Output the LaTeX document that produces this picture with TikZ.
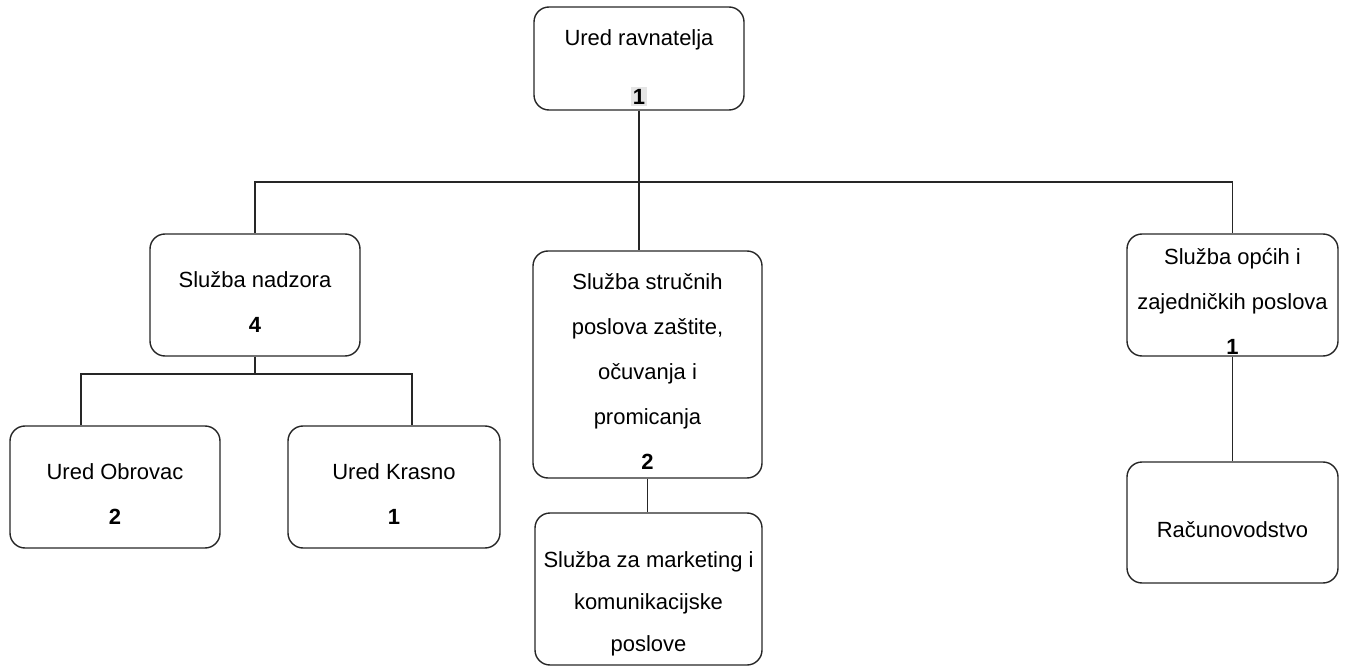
\documentclass[tikz,border=0pt]{standalone}
\usepackage{fontspec}
\setmainfont{Liberation Sans}
\usetikzlibrary{positioning}
\newcommand{\topgap}[1][17pt]{\rule{0pt}{#1}}

\begin{document}
\begin{tikzpicture}[
    box/.style={draw=black!85, line width=0.8pt, rounded corners=0.3cm, align=center,
      inner sep=0pt, font=\fontsize{12.5}{25.6}\selectfont},
    link/.style={draw=black!85, line width=0.8pt}
  ]
        \useasboundingbox (0,0) rectangle (26.9,-13.34);
        \node[box, minimum width=4.2cm, minimum height=2.06cm] (rav) at (12.78,-1.17)
          {\topgap[19.5pt]Ured ravnatelja\\[8pt]{\setlength{\fboxsep}{1pt}\colorbox{black!10}{\textbf{1}}}};
        \node[box, minimum width=4.2cm, minimum height=2.44cm] (nadzor) at (5.10,-5.90)
          {\topgap Služba nadzora\\\textbf{4}};
        \node[box, minimum width=4.58cm, minimum height=4.54cm] (struc) at (12.95,-7.29)
          {\topgap Služba stručnih\\poslova zaštite,\\očuvanja i\\promicanja\\\textbf{2}};
        \node[box, minimum width=4.22cm, minimum height=2.44cm] (opci) at (24.65,-5.90)
          {\topgap Služba općih i\\zajedničkih poslova\\\textbf{1}};
        \node[box, minimum width=4.2cm, minimum height=2.44cm] (obrovac) at (2.30,-9.74)
          {\topgap Ured Obrovac\\\textbf{2}};
        \node[box, minimum width=4.24cm, minimum height=2.44cm] (krasno) at (7.88,-9.74)
          {\topgap Ured Krasno\\\textbf{1}};
        \node[box, minimum width=4.54cm, minimum height=3.04cm,
          font=\fontsize{12.5}{24}\selectfont] (marketing) at (12.97,-11.78)
          {\topgap[26pt]Služba za marketing i\\komunikacijske\\poslove};
        \node[box, minimum width=4.22cm, minimum height=2.42cm] (racun) at (24.65,-10.45)
          {\topgap Računovodstvo};
        \coordinate (busA) at (0,-3.64);
        \coordinate (busB) at (0,-7.48);
	\draw[link] (rav.south) -- (rav.south |- busA) -| (nadzor.north);
	\draw[link] (rav.south |- busA) -| (opci.north);
	\draw[link] (rav.south) -- (rav.south |- struc.north);
	\draw[link] (nadzor.south) -- (nadzor.south |- busB) -| ([xshift=-0.68cm]obrovac.north);
	\draw[link] (nadzor.south |- busB) -| ([xshift=0.36cm]krasno.north);
	\draw[link] (struc.south) -- (struc.south |- marketing.north);
	\draw[link] (opci.south) -- (racun.north);
\end{tikzpicture}
\end{document}
